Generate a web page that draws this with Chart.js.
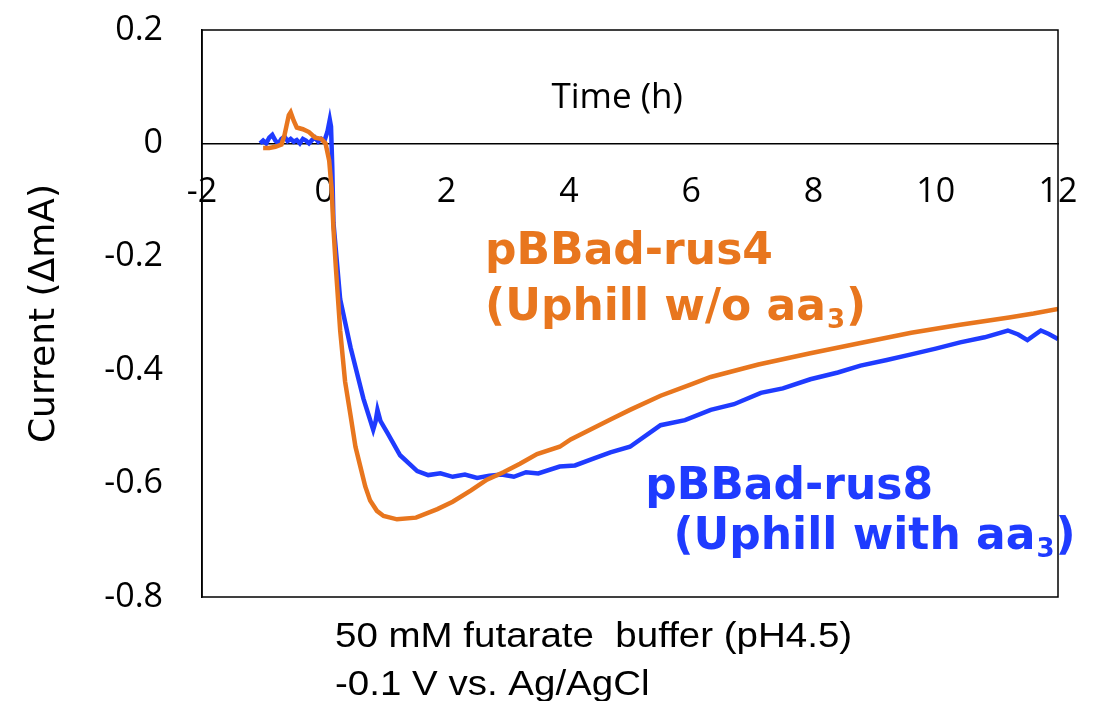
<!DOCTYPE html>
<html>
<head>
<meta charset="utf-8">
<script src="https://cdn.jsdelivr.net/npm/chart.js@4"></script>
<style>
  html, body { margin: 0; padding: 0; background: #fff; }
  #wrap { width: 1098px; height: 701px; }
</style>
</head>
<body>
<div id="wrap"><canvas id="currentChart" width="1098" height="701"></canvas></div>
<script>
// time (h) and current (delta mA)
var timeRus4 = [-1.0, -0.9, -0.8, -0.7, -0.65, -0.58, -0.55, -0.5, -0.45, -0.35, -0.25, -0.15, -0.05, 0.02,
  0.08, 0.12, 0.15, 0.19, 0.26, 0.34, 0.43, 0.51, 0.59, 0.67, 0.75, 0.86, 0.97, 1.19, 1.5, 1.85, 2.1, 2.4,
  2.66, 2.93, 3.2, 3.48, 3.85, 4.03, 4.68, 5.0, 5.5, 6.0, 6.32, 7.1, 7.95, 8.77, 9.6, 10.4, 11.2, 11.6, 12.0];
var currentRus4 = [-0.008, -0.008, -0.006, -0.002, 0.015, 0.05, 0.055, 0.04, 0.028, 0.025, 0.02, 0.01, 0.008, 0.0,
  -0.03, -0.08, -0.15, -0.22, -0.33, -0.42, -0.48, -0.535, -0.57, -0.605, -0.63, -0.648, -0.657, -0.663, -0.66, -0.645, -0.632, -0.612,
  -0.593, -0.58, -0.565, -0.548, -0.535, -0.522, -0.487, -0.47, -0.445, -0.425, -0.412, -0.39, -0.37, -0.352, -0.334, -0.32, -0.307, -0.3, -0.292];

var timeRus8 = [-1.05, -1.0, -0.95, -0.9, -0.85, -0.8, -0.75, -0.7, -0.65, -0.6, -0.55, -0.5, -0.45, -0.4, -0.35, -0.3,
  -0.25, -0.2, -0.15, -0.1, -0.05, 0.0, 0.05, 0.09, 0.11, 0.13, 0.15, 0.26, 0.43, 0.64, 0.8, 0.84, 0.87, 0.92, 1.03,
  1.24, 1.52, 1.7, 1.9, 2.1, 2.3, 2.5, 2.7, 2.9, 3.1, 3.3, 3.5, 3.85, 4.1, 4.4, 4.68, 5.0, 5.5, 5.9, 6.32, 6.7,
  7.14, 7.5, 7.95, 8.4, 8.77, 9.2, 9.6, 10.0, 10.4, 10.8, 11.18, 11.35, 11.5, 11.72, 11.85, 12.0];
var currentRus8 = [0.0, 0.005, 0.0, 0.01, 0.015, 0.005, 0.0, 0.008, 0.012, 0.004, 0.008, 0.003, 0.006, 0.0, 0.008, 0.005,
  0.0, 0.006, 0.01, 0.003, 0.008, 0.004, 0.02, 0.042, 0.03, -0.04, -0.14, -0.275, -0.36, -0.45, -0.505, -0.49, -0.47, -0.49, -0.51,
  -0.55, -0.578, -0.585, -0.582, -0.588, -0.584, -0.59, -0.586, -0.584, -0.588, -0.58, -0.582, -0.57, -0.568, -0.556, -0.545, -0.535, -0.497, -0.488, -0.47, -0.46,
  -0.44, -0.432, -0.416, -0.404, -0.392, -0.382, -0.372, -0.362, -0.351, -0.342, -0.33, -0.337, -0.347, -0.33, -0.336, -0.345];

var xTickStep = 2;
var yTickStep = 0.2;

var orange = '#E8761E';
var blue = '#1F3BFF';

function toPoints(xs, ys) {
  return xs.map(function (x, i) { return { x: x, y: ys[i] }; });
}

// frame round the plot + annotations
var framePlugin = {
  id: 'frame',
  afterDraw: function (chart) {
    var ctx = chart.ctx;
    var a = chart.chartArea;
    var sx = chart.scales.x, sy = chart.scales.y;
    ctx.save();
    ctx.strokeStyle = '#000';
    ctx.lineWidth = 1.5;
    ctx.strokeRect(a.left, a.top, a.right - a.left, a.bottom - a.top);

    ctx.textAlign = 'center';
    ctx.textBaseline = 'alphabetic';
    ctx.fillStyle = '#000';
    ctx.font = '35px "Open Sans", sans-serif';
    ctx.fillText('Time (h)', sx.getPixelForValue(4.79), sy.getPixelForValue(0.062));

    var big = 'bold 44px "DejaVu Sans", sans-serif';
    var small = 'bold 26px "DejaVu Sans", sans-serif';
    function label(text, sub, tail, t, v, color) {
      var x = sx.getPixelForValue(t), y = sy.getPixelForValue(v);
      ctx.fillStyle = color;
      ctx.textAlign = 'left';
      ctx.font = big;
      ctx.fillText(text, x, y);
      var w = ctx.measureText(text).width;
      if (sub) {
        ctx.font = small;
        ctx.fillText(sub, x + w + 1, y + 8);
        w += ctx.measureText(sub).width + 2;
        ctx.font = big;
        ctx.fillText(tail, x + w, y);
      }
    }
    label('pBBad-rus4', null, null, 2.63, -0.213, orange);
    label('(Uphill w/o aa', '3', ')', 2.63, -0.312, orange);
    label('pBBad-rus8', null, null, 5.25, -0.628, blue);
    label('(Uphill with aa', '3', ')', 5.71, -0.716, blue);

    // conditions under the plot, text slightly widened like the original
    ctx.fillStyle = '#000';
    ctx.font = '35px "Liberation Sans", Arial, sans-serif';
    ctx.translate(335, 0);
    ctx.scale(1.1, 1);
    ctx.fillText('50 mM futarate  buffer (pH4.5)', 0, 647);
    ctx.fillText('-0.1 V vs. Ag/AgCl', 0, 695);
    ctx.restore();
  }
};

var ctx = document.getElementById('currentChart').getContext('2d');
var chart = new Chart(ctx, {
  type: 'scatter',
  data: {
    datasets: [{
      label: 'pBBad-rus4 (Uphill w/o aa3)',
      data: toPoints(timeRus4, currentRus4),
      showLine: true,
      borderColor: orange,
      borderWidth: 4.5,
      pointRadius: 0,
      tension: 0
    }, {
      label: 'pBBad-rus8 (Uphill with aa3)',
      data: toPoints(timeRus8, currentRus8),
      showLine: true,
      borderColor: blue,
      borderWidth: 4.5,
      pointRadius: 0,
      tension: 0
    }]
  },
  options: {
    responsive: false,
    animation: false,
    layout: { padding: { left: 0, right: 40, top: 30, bottom: 104 } },
    plugins: {
      legend: { display: false },
      tooltip: { enabled: false }
    },
    scales: {
      x: {
        type: 'linear',
        position: { y: 0 },
        min: -2,
        max: 12,
        grid: { display: false, drawTicks: false },
        border: { display: true, color: '#000', width: 1.5 },
        afterFit: function (scale) { scale.paddingLeft = 0; scale.paddingRight = 0; },
        ticks: {
          stepSize: xTickStep,
          padding: 29,
          color: '#000',
          maxRotation: 0,
          font: { family: '"Open Sans", sans-serif', size: 34 }
        }
      },
      y: {
        type: 'linear',
        min: -0.8,
        max: 0.2,
        grid: { display: false, drawTicks: false },
        border: { display: true, color: '#000', width: 1.5 },
        afterFit: function (scale) {
          scale.width = 202;
          scale.paddingTop = 0;
          scale.paddingBottom = 0;
        },
        ticks: {
          stepSize: yTickStep,
          padding: 39,
          color: '#000',
          font: { family: '"Open Sans", sans-serif', size: 34 },
          callback: function (v) { return String(Math.round(v * 10) / 10); }
        },
        title: {
          display: true,
          text: 'Current (ΔmA)',
          color: '#000',
          padding: { top: 23 },
          font: { family: '"DejaVu Sans", sans-serif', size: 36 }
        }
      }
    }
  },
  plugins: [framePlugin]
});
</script>
</body>
</html>
